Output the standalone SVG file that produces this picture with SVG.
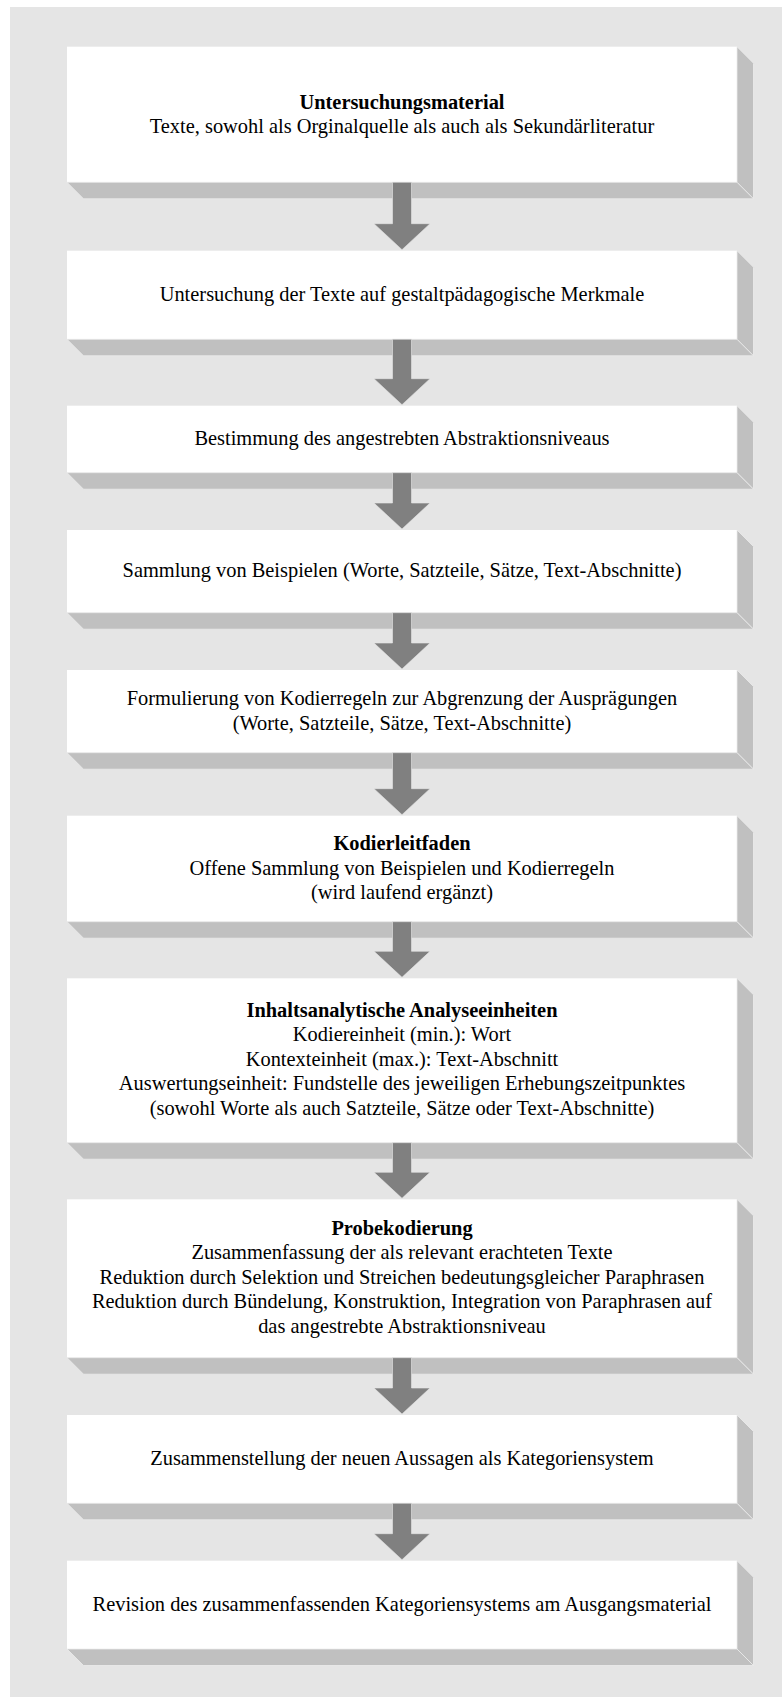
<svg xmlns="http://www.w3.org/2000/svg" width="782" height="1697" viewBox="0 0 782 1697">
  <style>
    .face { fill: #ffffff; }
    .bevel { fill: #c0c0c0; stroke: #ececec; stroke-width: 0.8; }
    .arrow { fill: #808080; stroke: #e6e6e6; stroke-width: 0.6; }
    text { font-family: "Liberation Serif", "Times New Roman", serif; font-size: 20.4px; fill: #000; text-anchor: middle; }
    .title { font-weight: bold; }
  </style>

  <!-- panel background -->
  <rect x="10" y="7" width="772" height="1690" fill="#e5e5e5"/>

  <!-- process steps: white face with a right and bottom bevel -->
  <g id="step1">
    <rect class="face" x="67" y="46.7" width="670" height="135.6"/>
    <polygon class="bevel" points="737,46.7 753.5,63.2 753.5,198.8 737,182.3"/>
    <polygon class="bevel" points="67,182.3 737,182.3 753.5,198.8 83.5,198.8"/>
    <text class="title" x="402" y="109">Untersuchungsmaterial</text>
    <text x="402" y="133.3">Texte, sowohl als Orginalquelle als auch als Sekundärliteratur</text>
  </g>

  <g id="step2">
    <rect class="face" x="67" y="250.7" width="670" height="88.6"/>
    <polygon class="bevel" points="737,250.7 753.5,267.2 753.5,355.8 737,339.3"/>
    <polygon class="bevel" points="67,339.3 737,339.3 753.5,355.8 83.5,355.8"/>
    <text x="402" y="301">Untersuchung der Texte auf gestaltpädagogische Merkmale</text>
  </g>

  <g id="step3">
    <rect class="face" x="67" y="405.7" width="670" height="67"/>
    <polygon class="bevel" points="737,405.7 753.5,422.2 753.5,489.2 737,472.7"/>
    <polygon class="bevel" points="67,472.7 737,472.7 753.5,489.2 83.5,489.2"/>
    <text x="402" y="445.2">Bestimmung des angestrebten Abstraktionsniveaus</text>
  </g>

  <g id="step4">
    <rect class="face" x="67" y="530" width="670" height="82.7"/>
    <polygon class="bevel" points="737,530 753.5,546.5 753.5,629.2 737,612.7"/>
    <polygon class="bevel" points="67,612.7 737,612.7 753.5,629.2 83.5,629.2"/>
    <text x="402" y="577.3">Sammlung von Beispielen (Worte, Satzteile, Sätze, Text-Abschnitte)</text>
  </g>

  <g id="step5">
    <rect class="face" x="67" y="670" width="670" height="82.7"/>
    <polygon class="bevel" points="737,670 753.5,686.5 753.5,769.2 737,752.7"/>
    <polygon class="bevel" points="67,752.7 737,752.7 753.5,769.2 83.5,769.2"/>
    <text x="402" y="705.1">Formulierung von Kodierregeln zur Abgrenzung der Ausprägungen</text>
    <text x="402" y="729.5">(Worte, Satzteile, Sätze, Text-Abschnitte)</text>
  </g>

  <g id="step6">
    <rect class="face" x="67" y="815.7" width="670" height="106"/>
    <polygon class="bevel" points="737,815.7 753.5,832.2 753.5,938.2 737,921.7"/>
    <polygon class="bevel" points="67,921.7 737,921.7 753.5,938.2 83.5,938.2"/>
    <text class="title" x="402" y="850.3">Kodierleitfaden</text>
    <text x="402" y="874.7">Offene Sammlung von Beispielen und Kodierregeln</text>
    <text x="402" y="899.1">(wird laufend ergänzt)</text>
  </g>

  <g id="step7">
    <rect class="face" x="67" y="978.3" width="670" height="164.4"/>
    <polygon class="bevel" points="737,978.3 753.5,994.8 753.5,1159.2 737,1142.7"/>
    <polygon class="bevel" points="67,1142.7 737,1142.7 753.5,1159.2 83.5,1159.2"/>
    <text class="title" x="402" y="1016.9">Inhaltsanalytische Analyseeinheiten</text>
    <text x="402" y="1041.4">Kodiereinheit (min.): Wort</text>
    <text x="402" y="1065.9">Kontexteinheit (max.): Text-Abschnitt</text>
    <text x="402" y="1090.4">Auswertungseinheit: Fundstelle des jeweiligen Erhebungszeitpunktes</text>
    <text x="402" y="1114.9">(sowohl Worte als auch Satzteile, Sätze oder Text-Abschnitte)</text>
  </g>

  <g id="step8">
    <rect class="face" x="67" y="1199.3" width="670" height="158.4"/>
    <polygon class="bevel" points="737,1199.3 753.5,1215.8 753.5,1374.2 737,1357.7"/>
    <polygon class="bevel" points="67,1357.7 737,1357.7 753.5,1374.2 83.5,1374.2"/>
    <text class="title" x="402" y="1235">Probekodierung</text>
    <text x="402" y="1259.4">Zusammenfassung der als relevant erachteten Texte</text>
    <text x="402" y="1283.8">Reduktion durch Selektion und Streichen bedeutungsgleicher Paraphrasen</text>
    <text x="402" y="1308.2">Reduktion durch Bündelung, Konstruktion, Integration von Paraphrasen auf</text>
    <text x="402" y="1332.6">das angestrebte Abstraktionsniveau</text>
  </g>

  <g id="step9">
    <rect class="face" x="67" y="1415" width="670" height="88.3"/>
    <polygon class="bevel" points="737,1415 753.5,1431.5 753.5,1519.8 737,1503.3"/>
    <polygon class="bevel" points="67,1503.3 737,1503.3 753.5,1519.8 83.5,1519.8"/>
    <text x="402" y="1465.2">Zusammenstellung der neuen Aussagen als Kategoriensystem</text>
  </g>

  <g id="step10">
    <rect class="face" x="67" y="1560.7" width="670" height="88.3"/>
    <polygon class="bevel" points="737,1560.7 753.5,1577.2 753.5,1665.5 737,1649"/>
    <polygon class="bevel" points="67,1649 737,1649 753.5,1665.5 83.5,1665.5"/>
    <text x="402" y="1610.9">Revision des zusammenfassenden Kategoriensystems am Ausgangsmaterial</text>
  </g>

  <!-- block arrows between consecutive steps -->
  <g id="connectors">
    <polygon class="arrow" points="392.5,182.3 411.5,182.3 411.5,223.7 430,223.7 402,249.7 374,223.7 392.5,223.7"/>
    <polygon class="arrow" points="392.5,339.3 411.5,339.3 411.5,378.7 430,378.7 402,404.7 374,378.7 392.5,378.7"/>
    <polygon class="arrow" points="392.5,472.7 411.5,472.7 411.5,503 430,503 402,529 374,503 392.5,503"/>
    <polygon class="arrow" points="392.5,612.7 411.5,612.7 411.5,643 430,643 402,669 374,643 392.5,643"/>
    <polygon class="arrow" points="392.5,752.7 411.5,752.7 411.5,788.7 430,788.7 402,814.7 374,788.7 392.5,788.7"/>
    <polygon class="arrow" points="392.5,921.7 411.5,921.7 411.5,951.3 430,951.3 402,977.3 374,951.3 392.5,951.3"/>
    <polygon class="arrow" points="392.5,1142.7 411.5,1142.7 411.5,1172.3 430,1172.3 402,1198.3 374,1172.3 392.5,1172.3"/>
    <polygon class="arrow" points="392.5,1357.7 411.5,1357.7 411.5,1388 430,1388 402,1414 374,1388 392.5,1388"/>
    <polygon class="arrow" points="392.5,1503.3 411.5,1503.3 411.5,1533.7 430,1533.7 402,1559.7 374,1533.7 392.5,1533.7"/>
  </g>
</svg>
